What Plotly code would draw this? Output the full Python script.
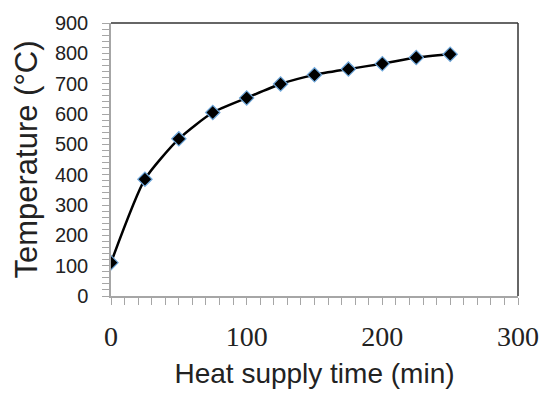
import plotly.graph_objects as go

time_min = [0, 25, 50, 75, 100, 125, 150, 175, 200, 225, 250]
temperature_c = [110, 385, 518, 605, 653, 699, 729, 748, 766, 786, 797]
x_range = [0, 300]
y_range = [0, 900]

fig = go.Figure()
fig.add_trace(go.Scatter(
    x=time_min, y=temperature_c, mode="lines+markers",
    line=dict(color="black", width=2.5, shape="spline", smoothing=0.6),
    marker=dict(symbol="diamond", size=11, color="black",
                line=dict(color="#6fa8dc", width=1.2)),
    showlegend=False,
))

gray = "#a6a6a6"
fig.update_layout(
    width=553, height=401,
    margin=dict(l=111, r=35, t=20, b=105),
    paper_bgcolor="white", plot_bgcolor="white",
    xaxis=dict(
        range=x_range, tickmode="linear", tick0=0, dtick=100,
        showgrid=False, zeroline=False,
        showline=True, linecolor=gray, linewidth=1.5,
        ticks="outside", ticklen=7, tickcolor=gray, tickwidth=1.2,
        minor=dict(tickmode="linear", tick0=0, dtick=10, ticks="outside", ticklen=7,
                   tickcolor=gray, tickwidth=1.2, showgrid=False),
        tickfont=dict(family="Liberation Serif", size=28, color="#222"),
        ticklabelstandoff=8,
        title=dict(text="Heat supply time (min)", standoff=12,
                   font=dict(family="Liberation Sans", size=28, color="#222")),
    ),
    yaxis=dict(
        range=y_range, tickmode="linear", tick0=0, dtick=100,
        showgrid=False, zeroline=False,
        showline=True, linecolor=gray, linewidth=1.5,
        ticks="outside", ticklen=7, tickcolor=gray, tickwidth=1.2,
        minor=dict(tickmode="linear", tick0=0, dtick=20, ticks="outside", ticklen=7,
                   tickcolor=gray, tickwidth=1.2, showgrid=False),
        tickfont=dict(family="Liberation Sans", size=20, color="#222"),
        ticklabelstandoff=10,
        title=dict(text="Temperature (°C)", standoff=8,
                   font=dict(family="Liberation Sans", size=31, color="#222")),
    ),
    shapes=[
        dict(type="line", xref="paper", yref="paper", x0=0, x1=1, y0=1, y1=1,
             line=dict(color="#333", width=1.5)),
        dict(type="line", xref="paper", yref="paper", x0=1, x1=1, y0=0, y1=1,
             line=dict(color="#333", width=1.5)),
    ],
)

fig.write_html("out.html")
